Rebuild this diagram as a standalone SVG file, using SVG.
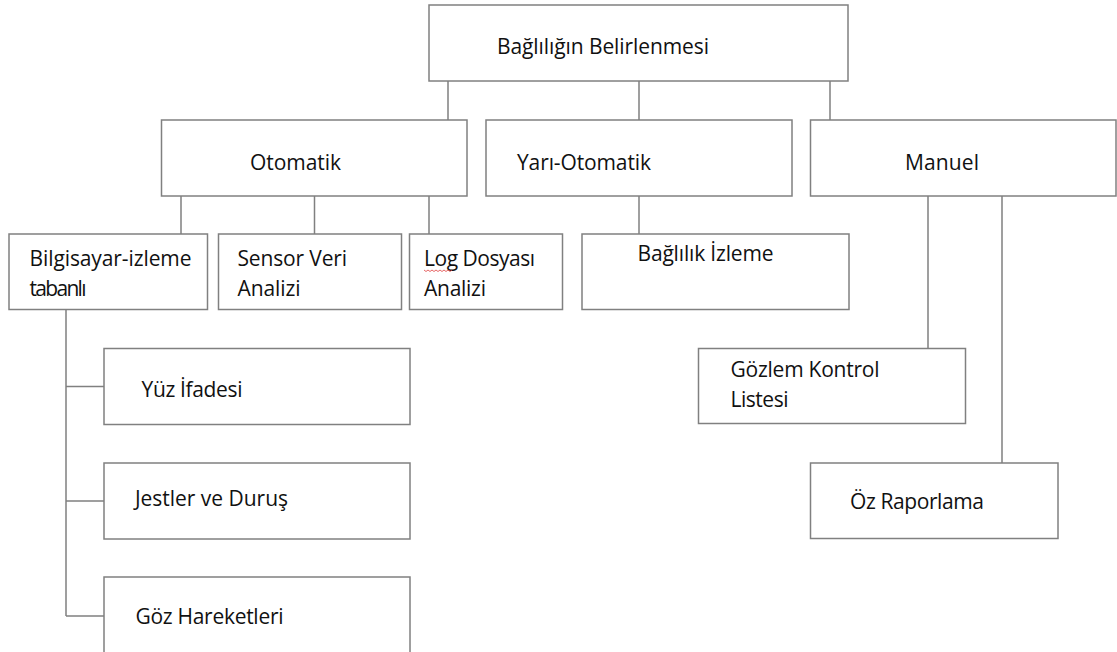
<svg xmlns="http://www.w3.org/2000/svg" width="1117" height="652" viewBox="0 0 1117 652">
  <style>
    .box { fill: #ffffff; stroke: #808080; stroke-width: 1.5; }
    .link { fill: none; stroke: #808080; stroke-width: 1.5; }
    .lbl { font-family: "Open Sans", "Noto Sans", "Liberation Sans", sans-serif; font-size: 21px; fill: #111111; }
    .squiggle { fill: none; stroke: #e04040; stroke-width: 0.8; }
  </style>
  <rect width="1117" height="652" fill="#ffffff"/>

  <!-- connectors -->
  <g id="connectors">
    <path class="link" d="M448,81 V120 M639,81 V120 M830,81 V120"/>
    <path class="link" d="M181,196 V234 M314.5,196 V234 M429,196 V234"/>
    <path class="link" d="M639,196 V234"/>
    <path class="link" d="M928,196 V348 M1002,196 V463"/>
    <path class="link" d="M66,310 V616 M66,386.5 H104 M66,501 H104 M66,616 H104"/>
  </g>

  <!-- root -->
  <g id="node-root">
    <rect class="box" x="429" y="5" width="419" height="76"/>
    <text class="lbl" x="497" y="54" textLength="212">Bağlılığın Belirlenmesi</text>
  </g>

  <!-- second level -->
  <g id="node-otomatik">
    <rect class="box" x="161.5" y="120" width="305.5" height="76"/>
    <text class="lbl" x="250" y="170" textLength="91">Otomatik</text>
  </g>
  <g id="node-yari-otomatik">
    <rect class="box" x="486" y="120" width="306" height="76"/>
    <text class="lbl" x="517" y="170" textLength="134">Yarı-Otomatik</text>
  </g>
  <g id="node-manuel">
    <rect class="box" x="810.5" y="120" width="305.5" height="76"/>
    <text class="lbl" x="905" y="170" textLength="74">Manuel</text>
  </g>

  <!-- third level -->
  <g id="node-bilgisayar">
    <rect class="box" x="9" y="234" width="198.5" height="75.5"/>
    <text class="lbl" x="29.5" y="266" textLength="162">Bilgisayar-izleme</text>
    <text class="lbl" x="29.5" y="296" textLength="57">tabanlı</text>
  </g>
  <g id="node-sensor">
    <rect class="box" x="218.5" y="234" width="183" height="75.5"/>
    <text class="lbl" x="237.5" y="266" textLength="109.5">Sensor Veri</text>
    <text class="lbl" x="237.5" y="296" textLength="63">Analizi</text>
  </g>
  <g id="node-log">
    <rect class="box" x="409.5" y="234" width="153" height="75.5"/>
    <text class="lbl" x="424" y="266" textLength="111">Log Dosyası</text>
    <path class="squiggle" d="M424,270 l2,1.5 l2,-1.5 l2,1.5 l2,-1.5 l2,1.5 l2,-1.5 l2,1.5 l2,-1.5 l2,1.5 l2,-1.5 l2,1.5 l2,-1.5 l2,1.5 l2,-1.5"/>
    <text class="lbl" x="424" y="296" textLength="62">Analizi</text>
  </g>
  <g id="node-baglilik-izleme">
    <rect class="box" x="582" y="234" width="267" height="75.5"/>
    <text class="lbl" x="637.5" y="261" textLength="136">Bağlılık İzleme</text>
  </g>

  <!-- computer-monitoring branches -->
  <g id="node-yuz">
    <rect class="box" x="104" y="348.5" width="306" height="76"/>
    <text class="lbl" x="141.5" y="397" textLength="101">Yüz İfadesi</text>
  </g>
  <g id="node-jestler">
    <rect class="box" x="104" y="463" width="306" height="76"/>
    <text class="lbl" x="135" y="506" textLength="153">Jestler ve Duruş</text>
  </g>
  <g id="node-goz">
    <rect class="box" x="104" y="577" width="306" height="90"/>
    <text class="lbl" x="135.5" y="624" textLength="148">Göz Hareketleri</text>
  </g>

  <!-- manual branches -->
  <g id="node-gozlem">
    <rect class="box" x="698.5" y="348.5" width="267" height="75"/>
    <text class="lbl" x="730.5" y="377" textLength="149">Gözlem Kontrol</text>
    <text class="lbl" x="730.5" y="407" textLength="58">Listesi</text>
  </g>
  <g id="node-oz">
    <rect class="box" x="810.5" y="463" width="247.5" height="75.5"/>
    <text class="lbl" x="850" y="509" textLength="134">Öz Raporlama</text>
  </g>
</svg>
